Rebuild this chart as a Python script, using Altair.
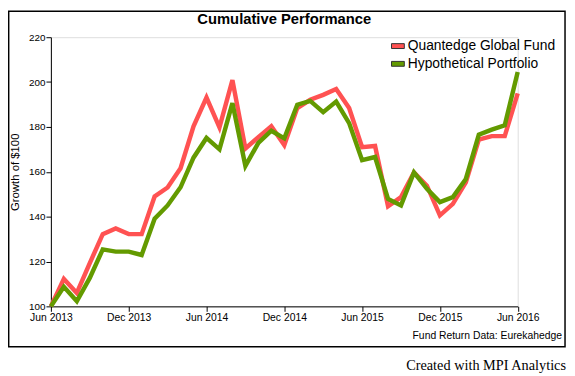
import altair as alt
import pandas as pd

# ---- data -------------------------------------------------------------
tick_labels = ["Jun 2013", "Dec 2013", "Jun 2014", "Dec 2014", "Jun 2015", "Dec 2015", "Jun 2016"]
tick_months = [0, 6, 12, 18, 24, 30, 36]
y_ticks = [100, 120, 140, 160, 180, 200, 220]
series_names = ["Quantedge Global Fund", "Hypothetical Portfolio"]
series_colors = ["#FF5252", "#639A00"]

quantedge = [100, 112.2, 106, 119.3, 132.2, 134.7, 132.2, 132.2, 149, 153, 161.6,
             180.3, 193.1, 179.8, 200.9, 170.4, 175.4, 180.3, 171.9, 188.4, 192.1,
             194.3, 196.9, 188.4, 171, 171.5, 144.6, 148.7, 159.7, 153.8, 140.6,
             145.7, 155.3, 174.4, 175.9, 175.9, 195]
hypothetical = [100, 108.7, 102.3, 112.7, 125.4, 124.4, 124.4, 122.9, 139.1, 145, 153.1,
                166.3, 175.1, 170, 190.6, 162.6, 172.9, 178.3, 174.9, 189.9, 191.6,
                186.6, 191.3, 181.7, 165.2, 166.6, 147.9, 145, 159.7, 152.4, 146.5,
                148.7, 156.8, 176.6, 178.8, 180.7, 204.5]

rows = []
for k, vals in enumerate([quantedge, hypothetical]):
    for i, v in enumerate(vals):
        rows.append({"m": i, "v": v, "s": series_names[k]})
df = pd.DataFrame(rows)

W, H = 473.5, 273
FONT = "Liberation Sans"

label_expr = "[" + ",".join("'%s'" % t for t in tick_labels) + "][round(datum.value/6)]"

x_enc = alt.X("m:Q",
              scale=alt.Scale(domain=[0, 36], nice=False, zero=False),
              axis=alt.Axis(values=tick_months, labelExpr=label_expr, title=None,
                            grid=False, tickSize=5, labelPadding=1,
                            labelFontSize=10.5, labelFont=FONT, labelColor="black",
                            domainColor="black", tickColor="black", labelFlush=False))
y_enc = alt.Y("v:Q",
              scale=alt.Scale(domain=[100, 220], nice=False, zero=False),
              axis=alt.Axis(values=y_ticks, title="Growth of $100", grid=False,
                            tickSize=5, labelPadding=1, labelFontSize=10,
                            labelFont=FONT, labelColor="black",
                            titleFont=FONT, titleFontSize=11.5, titleFontWeight="normal",
                            titleColor="black", titlePadding=8,
                            domainColor="black", tickColor="black"))

base = alt.Chart(df)

lines = base.mark_line(strokeWidth=4.5, strokeJoin="miter").encode(
    x=x_enc, y=y_enc,
    stroke=alt.Stroke("s:N", scale=alt.Scale(domain=series_names, range=series_colors), legend=None),
    order="m:Q",
)

legend_pts = base.mark_point(filled=True, size=0, opacity=1, stroke="#333333", strokeWidth=1).encode(
    x=x_enc, y=y_enc,
    fill=alt.Fill("s:N", sort=series_names, scale=alt.Scale(range=series_colors),
                  legend=alt.Legend(title=None, orient="none", legendX=345, legendY=2,
                                    symbolType="M-1,-0.38H1V0.38H-1Z", symbolSize=169,
                                    symbolStrokeColor="#333333", symbolStrokeWidth=1,
                                    symbolOpacity=1,
                                    labelFont=FONT, labelFontSize=14, labelColor="black",
                                    labelOffset=3, rowPadding=4, labelLimit=300)),
)

title = alt.Chart(pd.DataFrame({"t": ["Cumulative Performance"]})).mark_text(
    align="center", baseline="middle", font=FONT, fontSize=15, fontWeight="bold", color="black"
).encode(text="t:N", x=alt.value(W / 2), y=alt.value(-18))

note = alt.Chart(pd.DataFrame({"t": ["Fund Return Data: Eurekahedge"]})).mark_text(
    align="right", baseline="middle", font=FONT, fontSize=10.5, color="black"
).encode(text="t:N", x=alt.value(518.5), y=alt.value(303))

credit = alt.Chart(pd.DataFrame({"t": ["Created with MPI Analytics"]})).mark_text(
    align="right", baseline="alphabetic", font="Liberation Serif", fontSize=14.5, color="black"
).encode(text="t:N", x=alt.value(522.5), y=alt.value(338))

border = alt.Chart(pd.DataFrame({"a": [0]})).mark_rect(
    fillOpacity=0, stroke="black", strokeWidth=1.5
).encode(x=alt.value(-42.8), x2=alt.value(521.5), y=alt.value(-26.3), y2=alt.value(314))

chart = alt.layer(border, lines, legend_pts, title, note, credit).properties(
    width=W, height=H,
    autosize=alt.AutoSizeParams(type="none"),
    padding={"left": 43.5, "top": 27, "right": 50, "bottom": 68},
).configure_view(stroke=None).configure(background="white")

chart.save("out.html", embed_options={"renderer": "svg", "actions": False})
